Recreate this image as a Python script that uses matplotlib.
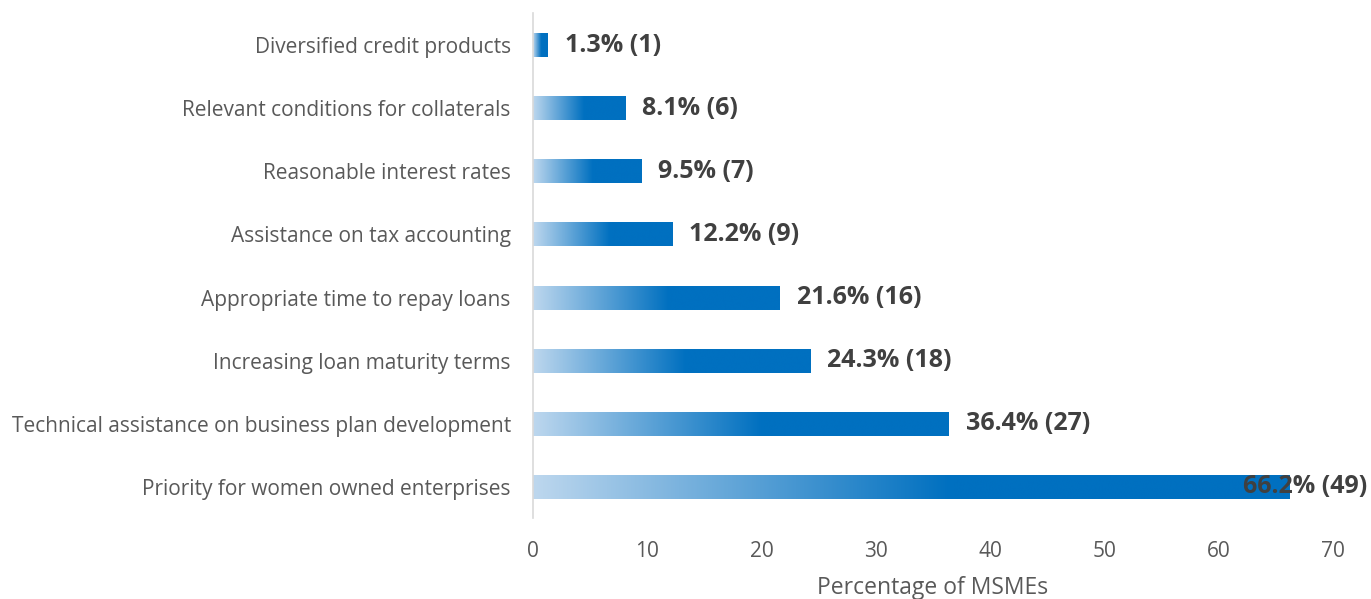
import numpy as np
import matplotlib.pyplot as plt
from matplotlib.colors import LinearSegmentedColormap
from matplotlib import transforms

# Survey results, bottom to top
categories = [
    "Priority for women owned enterprises",
    "Technical assistance on business plan development",
    "Increasing loan maturity terms",
    "Appropriate time to repay loans",
    "Assistance on tax accounting",
    "Reasonable interest rates",
    "Relevant conditions for collaterals",
    "Diversified credit products",
]
percentages = [66.2, 36.4, 24.3, 21.6, 12.2, 9.5, 8.1, 1.3]
counts = [49, 27, 18, 16, 9, 7, 6, 1]
x_ticks = [0, 10, 20, 30, 40, 50, 60, 70]

plt.rcParams['font.family'] = ['Open Sans', 'DejaVu Sans']

fig = plt.figure(figsize=(13.71, 5.99), dpi=100)
ax = fig.add_axes([0.3888, 0.1344, 0.5835, 0.8431])

grad = LinearSegmentedColormap.from_list(
    "bar_grad", [(0.0, "#BDD7EE"), (0.55, "#0070C0"), (1.0, "#0070C0")])
ramp = np.linspace(0, 1, 256).reshape(1, -1)

y = np.arange(len(categories))
bars = ax.barh(y, percentages, height=0.38, color="none", edgecolor="none")
for bar in bars:
    x0, y0 = bar.get_x(), bar.get_y()
    w, h = bar.get_width(), bar.get_height()
    im = ax.imshow(ramp, cmap=grad, aspect="auto", interpolation="bicubic",
                   extent=[x0, x0 + w, y0, y0 + h], zorder=2)
    im.set_clip_path(bar)

# value labels; the last one is pulled inside the figure edge
fig_x = transforms.blended_transform_factory(fig.transFigure, ax.transData)
for yi, pct, n in zip(y, percentages, counts):
    label = f"{pct}% ({n})"
    if pct > 60:
        ax.text(0.9975, yi, label, transform=fig_x, ha="right", va="center",
                fontsize=18, fontweight="bold", color="#404040", zorder=3)
    else:
        ax.annotate(label, (pct, yi), xytext=(12, 0), textcoords="offset points",
                    ha="left", va="center", fontsize=18, fontweight="bold",
                    color="#404040", zorder=3)

ax.set_xlim(0, 70)
ax.set_ylim(-0.5, len(categories) - 0.5)
ax.set_yticks(y, categories)
ax.set_xticks(x_ticks)
ax.tick_params(axis="both", length=0, labelsize=15, colors="#595959")
ax.tick_params(axis="x", pad=16)
ax.tick_params(axis="y", pad=16)
ax.set_xlabel("Percentage of MSMEs", fontsize=16.5, color="#595959", labelpad=10)

for side in ["top", "right", "bottom"]:
    ax.spines[side].set_visible(False)
ax.spines["left"].set_color("#D9D9D9")
ax.spines["left"].set_linewidth(1.2)

fig.savefig("out.png", dpi=100)
